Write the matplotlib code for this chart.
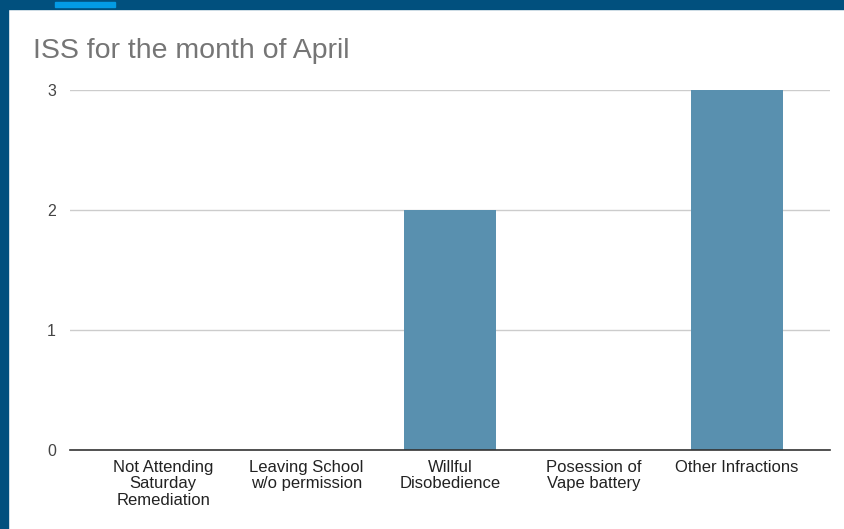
import matplotlib.pyplot as plt
from matplotlib.patches import Rectangle

# data
categories = ['Not Attending\nSaturday\nRemediation', 'Leaving School\nw/o permission',
              'Willful\nDisobedience', 'Posession of\nVape battery', 'Other Infractions']
values = [0, 0, 2, 0, 3]
yticks = [0, 1, 2, 3]

plt.rcParams['font.family'] = ['Liberation Sans', 'DejaVu Sans']

W, H = 845, 529
fig = plt.figure(figsize=(W / 100, H / 100), dpi=100)

# screenshot frame
fig.patches.append(Rectangle((0, 0), 8 / W, 1, transform=fig.transFigure,
                             color='#01507e', zorder=0))
fig.patches.append(Rectangle((0, 1 - 9 / H), 1, 9 / H, transform=fig.transFigure,
                             color='#01507e', zorder=0))
fig.patches.append(Rectangle((55 / W, 1 - 7 / H), 60 / W, 5 / H, transform=fig.transFigure,
                             color='#039be5', zorder=1))

ax = fig.add_axes([70 / W, (H - 450) / H, 760 / W, 360 / H])
x = range(len(categories))
ax.bar(x, values, width=0.64, color='#5990af', zorder=3)

ax.set_xlim(-0.65, 4.65)
ax.set_ylim(0, 3)
ax.set_yticks(yticks)
ax.set_xticks(list(x))
ax.set_xticklabels(categories, fontsize=12, color='#222222', linespacing=1.13)
ax.tick_params(axis='y', length=0, pad=10, labelsize=11.5, labelcolor='#444444')
ax.tick_params(axis='x', length=0, pad=7)
ax.set_yticklabels([str(v) for v in yticks])

ax.grid(axis='y', color='#cccccc', linewidth=1, zorder=0)
ax.set_axisbelow(True)
for s in ['top', 'right', 'left']:
    ax.spines[s].set_visible(False)
ax.spines['bottom'].set_color('#333333')
ax.spines['bottom'].set_linewidth(1.2)
ax.spines['bottom'].set_zorder(4)

fig.text(33 / W, 1 - 58 / H, 'ISS for the month of April', fontsize=20.5,
         color='#757575', ha='left', va='baseline')

fig.savefig('out.png', dpi=100)
